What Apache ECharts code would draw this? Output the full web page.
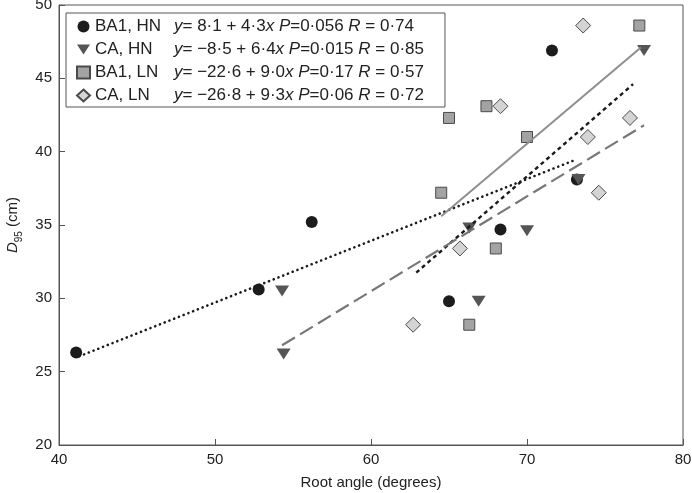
<!DOCTYPE html>
<html>
<head>
<meta charset="utf-8">
<script src="https://cdn.jsdelivr.net/npm/echarts@6/dist/echarts.min.js"></script>
<style>html,body{margin:0;padding:0;background:#fff;}#c{width:692px;height:493px;}</style>
</head>
<body>
<div id="c"></div>
<script>
// Data
var seriesNames = ['BA1, HN', 'CA, HN', 'BA1, LN', 'CA, LN'];
var ba1HN = [[41.1, 26.3], [52.8, 30.6], [56.2, 35.2], [65.0, 29.8], [68.3, 34.7], [71.6, 46.9], [73.2, 38.1]];
var caHN = [[54.3, 30.5], [54.4, 26.2], [66.3, 34.8], [66.9, 29.8], [70.0, 34.6], [73.3, 38.1], [77.5, 46.9]];
var ba1LN = [[64.5, 37.2], [65.0, 42.3], [66.3, 28.2], [67.4, 43.1], [68.0, 33.4], [70.0, 41.0], [77.2, 48.6]];
var caLN = [[62.7, 28.2], [65.7, 33.4], [68.3, 43.1], [73.6, 48.6], [73.9, 41.0], [74.6, 37.2], [76.6, 42.3]];
// Fitted lines (endpoints)
var fitBA1HN = [[41.3, 26.05], [73.0, 39.4]];
var fitCAHN = [[62.9, 31.75], [76.8, 44.6]];
var fitBA1LN = [[64.5, 35.6], [77.3, 47.1]];
var fitCALN = [[54.3, 26.8], [77.5, 41.8]];
// Legend equation texts
var intercepts = ['8·1', '−8·5', '−22·6', '−26·8'];
var slopes = ['4·3', '6·4', '9·0', '9·3'];
var pVals = ['0·056', '0·015', '0·17', '0·06'];
var rVals = ['0·74', '0·85', '0·57', '0·72'];
var xTicks = [40, 50, 60, 70, 80];
var yTicks = [20, 25, 30, 35, 40, 45, 50];

function eq(i) {
  return '{i|y}{t|= ' + intercepts[i] + ' + ' + slopes[i] + '}{i|x} {i|P}{t|=' + pVals[i] + ' }{i|R}{t| = ' + rVals[i] + '}';
}

var chart = echarts.init(document.getElementById('c'));
var FONT = 'Liberation Sans, Arial, sans-serif';
var markerBorder = '#4a4a4a';
var triPath = 'path://M0,0L14,0L7,11Z';

var option = {
  animation: false,
  textStyle: { fontFamily: FONT },
  grid: { left: 59, right: 9, top: 5, bottom: 48, show: true, borderColor: '#555', borderWidth: 1,
          backgroundColor: 'transparent', containLabel: false, outerBoundsMode: 'none' },
  xAxis: {
    type: 'value', min: xTicks[0], max: xTicks[xTicks.length - 1], interval: 10,
    name: 'Root angle (degrees)', nameLocation: 'middle', nameGap: 30,
    nameTextStyle: { fontSize: 15, color: '#222', fontFamily: FONT },
    axisLine: { lineStyle: { color: '#555', width: 1 } },
    axisTick: { inside: true, length: 6, lineStyle: { color: '#555' } },
    axisLabel: { fontSize: 15, color: '#222', margin: 7, fontFamily: FONT },
    splitLine: { show: false }
  },
  yAxis: {
    type: 'value', min: yTicks[0], max: yTicks[yTicks.length - 1], interval: 5,
    name: '{i|D}{s|95}{n| (cm)}', nameLocation: 'middle', nameGap: 38, nameRotate: 90,
    nameTextStyle: {
      fontSize: 15, color: '#222', fontFamily: FONT,
      rich: {
        i: { fontSize: 15, fontStyle: 'italic', color: '#222', fontFamily: FONT, verticalAlign: 'bottom', lineHeight: 20 },
        s: { fontSize: 10, color: '#222', fontFamily: FONT, verticalAlign: 'bottom', lineHeight: 20, padding: [0, 0, -4, 0] },
        n: { fontSize: 15, color: '#222', fontFamily: FONT, verticalAlign: 'bottom', lineHeight: 20 }
      }
    },
    axisLine: { lineStyle: { color: '#555', width: 1 } },
    axisTick: { inside: true, length: 6, lineStyle: { color: '#555' } },
    axisLabel: { fontSize: 15, color: '#222', margin: 7, fontFamily: FONT },
    splitLine: { show: false }
  },
  legend: {
    data: seriesNames,
    orient: 'vertical', left: 66, top: 13,
    backgroundColor: '#fff', borderColor: '#555', borderWidth: 1,
    padding: [5, 21, 3, 10],
    itemWidth: 13, itemHeight: 12, itemGap: 6,
    selectedMode: false,
    formatter: function (name) {
      var i = seriesNames.indexOf(name);
      return '{n|' + name + '}' + eq(i);
    },
    textStyle: {
      fontSize: 17, color: '#222', fontFamily: FONT, lineHeight: 16,
      rich: {
        n: { fontSize: 17, color: '#222', fontFamily: FONT, width: 79 },
        i: { fontSize: 17, color: '#222', fontFamily: FONT, fontStyle: 'italic' },
        t: { fontSize: 17, color: '#222', fontFamily: FONT }
      }
    }
  },
  series: [
    { name: seriesNames[0], type: 'scatter', data: ba1HN, symbol: 'circle', symbolSize: 12,
      itemStyle: { color: '#1c1c1c', opacity: 1 }, z: 3 },
    { name: seriesNames[1], type: 'scatter', data: caHN, symbol: triPath, symbolSize: [14, 11],
      itemStyle: { color: '#555555', opacity: 1 }, z: 3 },
    { name: seriesNames[2], type: 'scatter', data: ba1LN, symbol: 'rect', symbolSize: 11,
      itemStyle: { color: '#a3a3a3', borderColor: markerBorder, borderWidth: 1, opacity: 1 }, z: 3 },
    { name: seriesNames[3], type: 'scatter', data: caLN, symbol: 'diamond', symbolSize: 15,
      itemStyle: { color: '#d4d4d4', borderColor: markerBorder, borderWidth: 1, opacity: 1 }, z: 3 },
    { name: 'fit1', type: 'line', data: fitBA1HN, symbol: 'none', silent: true, z: 4,
      lineStyle: { color: '#1a1a1a', width: 2.6, type: [0.1, 5], cap: 'round' } },
    { name: 'fit2', type: 'line', data: fitCAHN, symbol: 'none', silent: true, z: 4,
      lineStyle: { color: '#1a1a1a', width: 2.4, type: [4, 3.5], cap: 'butt' } },
    { name: 'fit3', type: 'line', data: fitBA1LN, symbol: 'none', silent: true, z: 4,
      lineStyle: { color: '#8e8e8e', width: 2, type: 'solid' } },
    { name: 'fit4', type: 'line', data: fitCALN, symbol: 'none', silent: true, z: 4,
      lineStyle: { color: '#777777', width: 2.2, type: [15, 6] } }
  ]
};
chart.setOption(option);
</script>
</body>
</html>
